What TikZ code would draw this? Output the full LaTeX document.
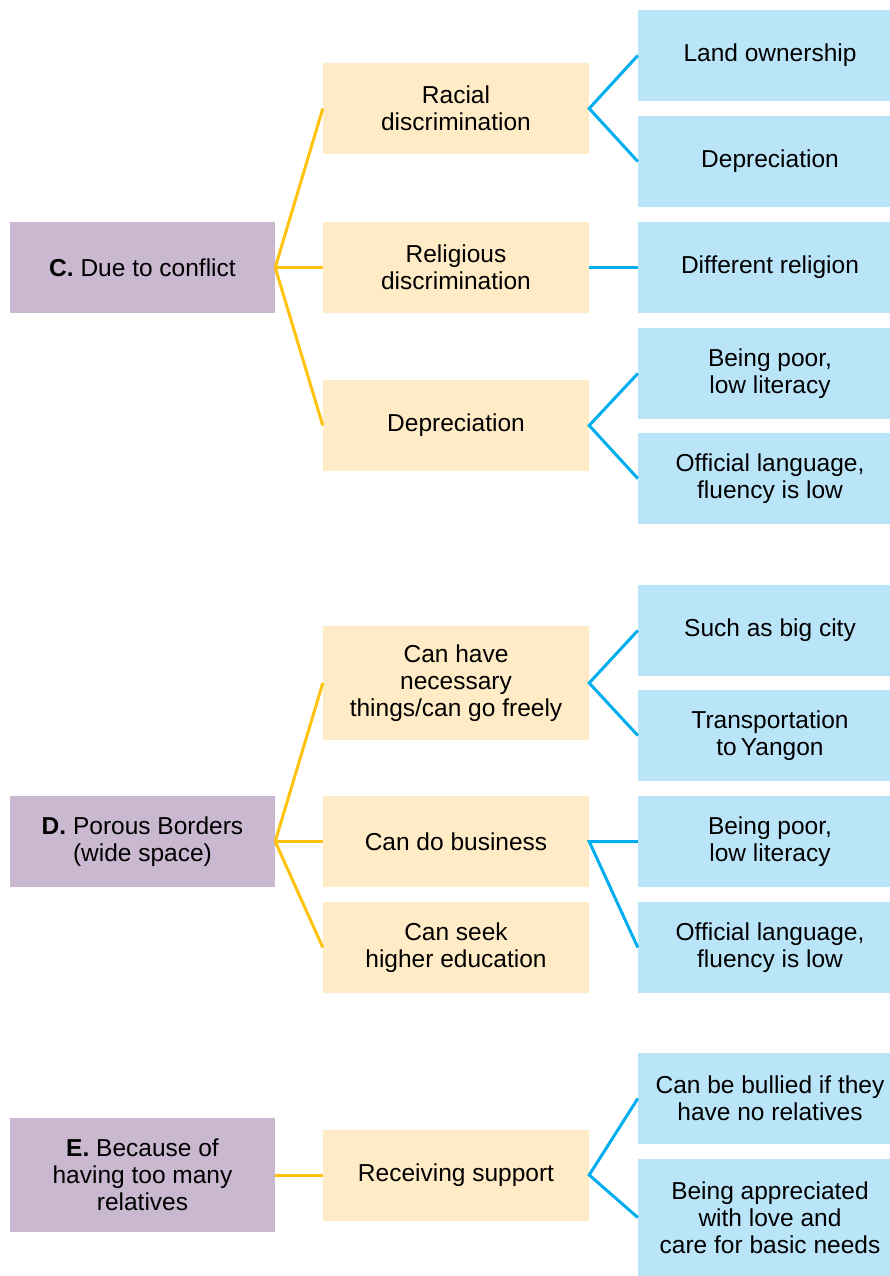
\documentclass[tikz,border=0pt]{standalone}
\usepackage{fontspec}
\setmainfont{Liberation Sans}
\usepackage{tikz}
\usetikzlibrary{positioning}
\definecolor{causepurple}{HTML}{C9B8D0}
\definecolor{factoryellow}{HTML}{FFEBC6}
\definecolor{detailblue}{HTML}{BAE5F9}
\definecolor{lineyellow}{HTML}{FFC20E}
\definecolor{lineblue}{HTML}{00AEEF}

\begin{document}
\begin{tikzpicture}[
  x=1pt,y=-1pt,
  font=\fontsize{24.5}{27}\selectfont,
  cause/.style={fill=causepurple,align=center,inner sep=0pt,
                minimum width=265pt,minimum height=91pt},
  factor/.style={fill=factoryellow,align=center,inner sep=0pt,
                 minimum width=266pt,minimum height=91pt},
  detail/.style={fill=detailblue,align=center,inner sep=0pt,
                 minimum width=264pt,minimum height=91pt},
  yline/.style={lineyellow,line width=3pt},
  bline/.style={lineblue,line width=3pt}
]
  \useasboundingbox (0,0) rectangle (890,1276);
  % C. Due to conflict
  \node[cause] (c) at (142.5,267.5) {\textbf{C.} Due to conflict};
  \node[factor] (cRacial) at (456,108.5) {Racial\\discrimination};
  \node[factor] (cReligious) at (456,267.5) {Religious\\discrimination};
  \node[factor] (cDeprec) at (456,425.5) {Depreciation};
  \node[detail] (cLand) at (770,55.5) {Land ownership};
  \node[detail] (cDeprecB) at (770,161.5) {Depreciation};
  \node[detail] (cReligion) at (770,267.5) {Different religion};
  \node[detail] (cPoor) at (770,373.5) {Being poor,\\low literacy};
  \node[detail] (cLang) at (770,478.5) {Official language,\\fluency is low};
  \draw[yline] (c.east) -- (cRacial.west);
  \draw[yline] (c.east) -- (cReligious.west);
  \draw[yline] (c.east) -- (cDeprec.west);
  \draw[bline] (cLand.west) -- (cRacial.east) -- (cDeprecB.west);
  \draw[bline] (cReligious.east) -- (cReligion.west);
  \draw[bline] (cPoor.west) -- (cDeprec.east) -- (cLang.west);
  % D. Porous Borders
  \node[cause] (d) at (142.5,841.5) {\textbf{D.} Porous Borders\\(wide space)};
  \node[factor,minimum height=114pt] (dThings) at (456,683) {Can have\\necessary\\things/can go freely};
  \node[factor] (dBusiness) at (456,841.5) {Can do business};
  \node[factor] (dEducation) at (456,947.5) {Can seek\\higher education};
  \node[detail] (dCity) at (770,630.5) {Such as big city};
  \node[detail] (dTransport) at (770,735.5) {Transportation\\to\,Yangon};
  \node[detail] (dPoor) at (770,841.5) {Being poor,\\low literacy};
  \node[detail] (dLang) at (770,947.5) {Official language,\\fluency is low};
  \draw[yline] (d.east) -- (dThings.west);
  \draw[yline] (d.east) -- (dBusiness.west);
  \draw[yline] (d.east) -- (dEducation.west);
  \draw[bline] (dCity.west) -- (dThings.east) -- (dTransport.west);
  \draw[bline] (dPoor.west) -- (dBusiness.east) -- (dLang.west);
  % E. Because of having too many relatives
  \node[cause,minimum height=114pt] (e) at (142.5,1175) {\textbf{E.} Because of\\having too many\\relatives};
  \node[factor] (eSupport) at (456,1175) {Receiving support};
  \node[detail] (eBullied) at (770,1098.5) {Can be bullied if they\\have no relatives};
  \node[detail,minimum height=117pt] (eLove) at (770,1217.5) {Being appreciated\\with love and\\care for basic needs};
  \draw[yline] (e.east) -- (eSupport.west);
  \draw[bline] (eBullied.west) -- (eSupport.east) -- (eLove.west);
\end{tikzpicture}
\end{document}
